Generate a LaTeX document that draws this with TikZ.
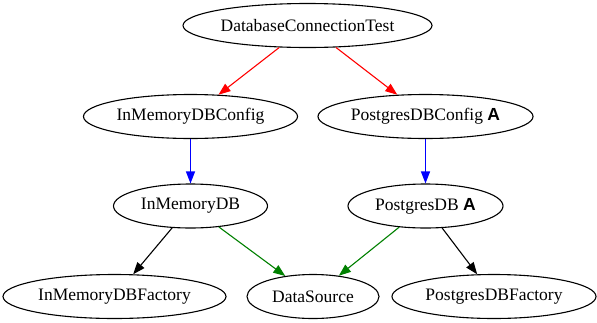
\documentclass[tikz,border=0pt]{standalone}
\usepackage{fontspec}
\setmainfont{Liberation Serif}
\newfontfamily\badgefont{Liberation Sans}
\usetikzlibrary{shapes.geometric,arrows.meta}
\definecolor{edgegreen}{RGB}{0,128,0}
\newcommand{\badge}{ {\badgefont\bfseries A}}
\begin{document}
\begin{tikzpicture}[x=1pt,y=-1pt,
  cls/.style={ellipse,draw,line width=1.1pt,inner sep=0pt,minimum height=44pt,
    font=\fontsize{17.5}{20}\selectfont},
  dep/.style={line width=1.1pt,-{Triangle[length=12pt,width=9pt]}}]
\useasboundingbox (0,0) rectangle (597,322);
% class nodes, one row per layer
\node[cls,minimum width=249pt] (dct) at (307.5,25.5) {DatabaseConnectionTest};
\node[cls,minimum width=214pt] (imc) at (190.5,116.5) {InMemoryDBConfig};
\node[cls,minimum width=215pt] (pgc) at (425.5,116.5) {PostgresDBConfig\badge};
\node[cls,minimum width=154pt] (imdb) at (190.5,206) {InMemoryDB};
\node[cls,minimum width=155pt] (pgdb) at (425.5,206) {PostgresDB\badge};
\node[cls,minimum width=223pt] (imf) at (114.5,296.5) {InMemoryDBFactory};
\node[cls,minimum width=132pt] (ds) at (313,296.5) {DataSource};
\node[cls,minimum width=204pt] (pgf) at (494,296.5) {PostgresDBFactory};
% dependencies
\draw[dep,red] (dct) -- (imc);
\draw[dep,red] (dct) -- (pgc);
\draw[dep,blue] (imc) -- (imdb);
\draw[dep,blue] (pgc) -- (pgdb);
\draw[dep,black] (imdb) -- (imf);
\draw[dep,edgegreen] (imdb) -- (ds);
\draw[dep,edgegreen] (pgdb) -- (ds);
\draw[dep,black] (pgdb) -- (pgf);
\end{tikzpicture}
\end{document}
